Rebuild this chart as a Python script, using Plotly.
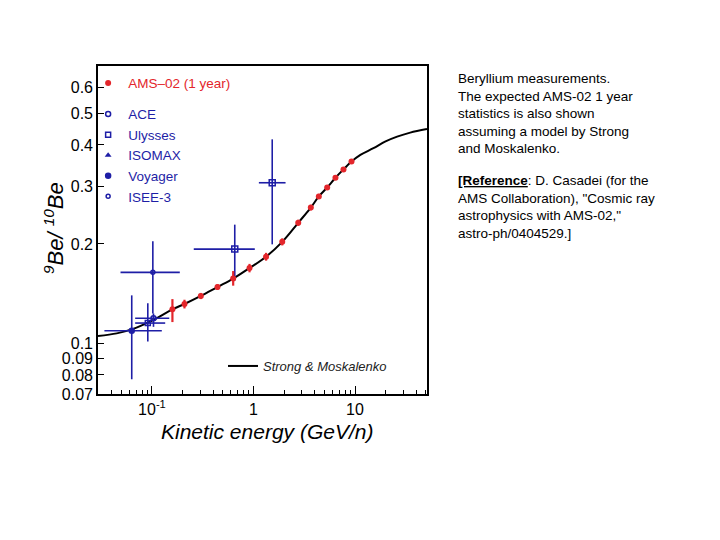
import plotly.graph_objects as go
import math

# ---------------- data ----------------
ams_x = [0.159, 0.209, 0.303, 0.442, 0.631, 0.914, 1.33, 1.92, 2.76, 3.67, 4.40, 5.32, 6.42, 7.70, 9.24]
ams_y = [0.1266, 0.1314, 0.139, 0.148, 0.157, 0.169, 0.183, 0.203, 0.232, 0.258, 0.279, 0.297, 0.318, 0.337, 0.356]
ams_err_hi = [0.0094, 0.004, 0.003, 0.003, 0.0085, 0.005, 0.005, 0.005, 0.005, 0.005, 0.005, 0.005, 0.005, 0.005, 0.005]
ams_err_lo = [0.0108, 0.004, 0.003, 0.003, 0.0076, 0.005, 0.005, 0.005, 0.005, 0.005, 0.005, 0.005, 0.005, 0.005, 0.005]

model_x = [0.0294, 0.045, 0.063, 0.1, 0.159, 0.209, 0.303, 0.442, 0.631, 0.914, 1.33, 1.92, 2.76, 3.67,
           4.40, 5.32, 6.42, 7.70, 9.24, 11.3, 15.2, 20.0, 26.0, 35.0, 51.2]
model_y = [0.105, 0.107, 0.110, 0.117, 0.1266, 0.1314, 0.139, 0.148, 0.157, 0.169, 0.183, 0.203, 0.232, 0.258,
           0.279, 0.297, 0.318, 0.337, 0.356, 0.373, 0.391, 0.41, 0.424, 0.436, 0.447]

ace_x = [0.1035]; ace_y = [0.119]
ace_x_lo = [0.0683]; ace_x_hi = [0.148]; ace_y_lo = [0.112]; ace_y_hi = [0.123]

uly_x = [0.091]; uly_y = [0.115]
uly_x_lo = [0.0683]; uly_x_hi = [0.135]; uly_y_lo = [0.101]; uly_y_hi = [0.132]

iso_x = [0.654, 1.53]; iso_y = [0.193, 0.307]
iso_x_lo = [0.258, 1.13]; iso_x_hi = [1.03, 2.07]; iso_y_lo = [0.155, 0.1995]; iso_y_hi = [0.229, 0.416]

voy_x = [0.0632]; voy_y = [0.109]
voy_x_lo = [0.034]; voy_x_hi = [0.125]; voy_y_lo = [0.0776]; voy_y_hi = [0.1396]

isee_x = [0.102]; isee_y = [0.164]
isee_x_lo = [0.049]; isee_x_hi = [0.188]; isee_y_lo = [0.123]; isee_y_hi = [0.204]

y_ticks = [0.07, 0.08, 0.09, 0.1, 0.2, 0.3, 0.4, 0.5, 0.6]
y_tick_text = ["0.07", "0.08", "0.09", "0.1", "0.2", "0.3", "0.4", "0.5", "0.6"]
x_ticks = [0.1, 1, 10]
x_tick_text = ["10<sup>-1</sup>", "1", "10"]
x_minor = [0.03, 0.04, 0.05, 0.06, 0.07, 0.08, 0.09, 0.2, 0.3, 0.4, 0.5, 0.6, 0.7, 0.8, 0.9,
           2, 3, 4, 5, 6, 7, 8, 9, 20, 30, 40, 50]

RED = "#e3262b"
BLUE = "#1e1ea6"
FONT = "Liberation Sans, Arial, sans-serif"

# page offset (body margin) and plot frame in figure pixels
OFF = 8
L, R, T, B = 90, 419, 58, 386
PW, PH = R - L, B - T


def px(xp):
    return (xp - OFF - L) / PW


def py(yp):
    return (B - (yp - OFF)) / PH


def errs(x, lo, hi):
    return [h - v for v, h in zip(x, hi)], [v - l for v, l in zip(x, lo)]


fig = go.Figure()

fig.add_trace(go.Scatter(x=model_x, y=model_y, mode="lines", line=dict(color="black", width=2, shape="spline"),
                         name="<i>Strong &amp; Moskalenko</i>", legend="legend3"))


def blue_trace(name, x, y, xlo, xhi, ylo, yhi, symbol, size, color=BLUE, showlegend=True, group=None):
    ex_p, ex_m = errs(x, xlo, xhi)
    ey_p, ey_m = errs(y, ylo, yhi)
    fig.add_trace(go.Scatter(
        x=x, y=y, mode="markers", name=name, legend="legend2", showlegend=showlegend, legendgroup=group or name,
        marker=dict(symbol=symbol, size=size, color=color, line=dict(color=color, width=1.5)),
        error_x=dict(type="data", symmetric=False, array=ex_p, arrayminus=ex_m, color=color, thickness=1.6, width=0),
        error_y=dict(type="data", symmetric=False, array=ey_p, arrayminus=ey_m, color=color, thickness=1.6, width=0),
    ))


blue_trace("ISEE-3", isee_x, isee_y, isee_x_lo, isee_x_hi, isee_y_lo, isee_y_hi, "circle-open", 4)
blue_trace("Voyager", voy_x, voy_y, voy_x_lo, voy_x_hi, voy_y_lo, voy_y_hi, "circle", 5)
blue_trace("Ulysses", uly_x, uly_y, uly_x_lo, uly_x_hi, uly_y_lo, uly_y_hi, "square-open", 5)
blue_trace("ACE", ace_x, ace_y, ace_x_lo, ace_x_hi, ace_y_lo, ace_y_hi, "circle-open", 5)
blue_trace("ISOMAX", iso_x, iso_y, iso_x_lo, iso_x_hi, iso_y_lo, iso_y_hi, "square-open", 6, showlegend=False, group="ISOMAX")

fig.add_trace(go.Scatter(
    x=ams_x, y=ams_y, mode="markers", name="AMS–02 (1 year)", legend="legend",
    marker=dict(symbol="circle", size=6, color=RED),
    error_y=dict(type="data", symmetric=False, array=ams_err_hi, arrayminus=ams_err_lo, color=RED, thickness=2.2, width=0),
))

# legend-only entry for ISOMAX (triangle symbol in legend)
fig.add_trace(go.Scatter(x=[None], y=[None], mode="markers", name="ISOMAX", legend="legend2", legendgroup="ISOMAX",
                         marker=dict(symbol="triangle-up", size=6, color=BLUE)))

legend_order = ["ACE", "Ulysses", "ISOMAX", "Voyager", "ISEE-3"]
for tr in fig.data:
    if tr.legend == "legend2" and tr.showlegend is not False:
        tr.legendrank = legend_order.index(tr.name) + 1

fig.update_layout(
    width=720, height=540,
    margin=dict(l=L, r=720 - R, t=T, b=540 - B),
    paper_bgcolor="white", plot_bgcolor="white",
    font=dict(family=FONT, size=16, color="black"),
    showlegend=True,
    legend=dict(x=-0.03, y=0.995, xanchor="left", yanchor="top", bgcolor="rgba(0,0,0,0)",
                font=dict(family=FONT, size=13.5, color=RED), itemwidth=30),
    legend2=dict(x=-0.03, y=0.9, xanchor="left", yanchor="top", bgcolor="rgba(0,0,0,0)",
                 font=dict(family=FONT, size=13.5, color=BLUE), traceorder="normal", itemwidth=30,
                 tracegroupgap=0),
    legend3=dict(x=px(223), y=py(366), xanchor="left", yanchor="middle", bgcolor="rgba(0,0,0,0)",
                 font=dict(family=FONT, size=13, color="#222222"), itemwidth=30),
    xaxis=dict(type="log", range=[math.log10(0.0294), math.log10(51.2)], showline=True, linecolor="black",
               linewidth=1.6, mirror=True, ticks="inside", ticklen=8, tickwidth=1.3, tickcolor="black",
               tickvals=x_ticks, ticktext=x_tick_text, showgrid=False, zeroline=False,
               tickfont=dict(family=FONT, size=16),
               minor=dict(tickvals=x_minor, ticks="inside", ticklen=4, tickwidth=1, tickcolor="black", showgrid=False)),
    yaxis=dict(type="log", range=[math.log10(0.07), math.log10(0.695)], showline=True, linecolor="black",
               linewidth=1.6, mirror=True, ticks="inside", ticklen=6, tickwidth=1.3, tickcolor="black",
               tickvals=y_ticks, ticktext=y_tick_text, showgrid=False, zeroline=False,
               tickfont=dict(family=FONT, size=16)),
)

fig.add_annotation(xref="paper", yref="paper", x=px(267), y=py(431),
                   text="<i>Kinetic energy (GeV/n)</i>", showarrow=False, font=dict(family=FONT, size=21),
                   xanchor="center", yanchor="middle")
fig.add_annotation(xref="paper", yref="paper", x=px(54), y=py(228),
                   text="<i><sup>9</sup>Be/ <sup>10</sup>Be</i>", showarrow=False, textangle=-90,
                   font=dict(family=FONT, size=22), xanchor="center", yanchor="middle")

fig.add_annotation(xref="paper", yref="paper", x=px(456), y=py(69),
                   text="Beryllium measurements.<br>The expected AMS-02 1 year<br>statistics is also shown<br>"
                        "assuming a model by Strong<br>and Moskalenko.",
                   showarrow=False, align="left", xanchor="left", yanchor="top",
                   font=dict(family=FONT, size=13.5, color="black"))
fig.add_annotation(xref="paper", yref="paper", x=px(456), y=py(171),
                   text="<b><u>[Reference</u></b>: D. Casadei (for the<br>AMS Collaboration), \"Cosmic ray<br>"
                        "astrophysics with AMS-02,\"<br>astro-ph/0404529.]",
                   showarrow=False, align="left", xanchor="left", yanchor="top",
                   font=dict(family=FONT, size=13.5, color="black"))

fig.write_html("out.html")
